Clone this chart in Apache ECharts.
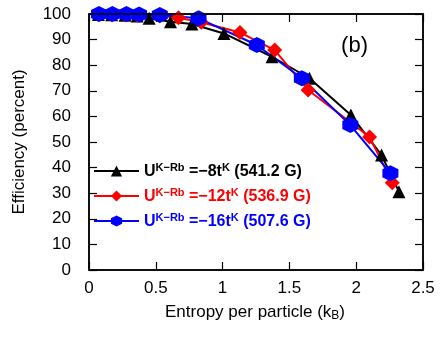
<!DOCTYPE html>
<html><head><meta charset="utf-8">
<script src="https://cdn.jsdelivr.net/npm/echarts@6/dist/echarts.min.js"></script>
<style>html,body{margin:0;padding:0;background:#fff}
#wrap{position:relative;width:443px;height:337px}
#c,#o{position:absolute;left:0;top:0;width:443px;height:337px}</style>
</head><body><div id="wrap"><div id="c"></div><div id="o"></div></div>
<script>
const xBlack = [0.07,0.17,0.27,0.36,0.45,0.61,0.77,1.01,1.37,1.65,1.96,2.19,2.32];
const yBlack = [99.8,99.7,99.5,99.2,98.3,97.0,96.1,92.4,83.3,74.9,60.5,44.9,30.6];
const xRed = [0.07,0.17,0.27,0.36,0.53,0.67,0.84,1.13,1.39,1.64,2.10,2.27];
const yRed = [99.8,99.7,99.6,99.5,99.3,98.5,96.8,92.8,85.9,70.3,52.0,34.1];
const xBlue = [0.075,0.175,0.28,0.375,0.53,0.82,1.256,1.593,1.956,2.256];
const yBlue = [100,100,100,99.8,99.6,98.3,87.9,74.9,56.6,37.8];
const names = ['a','b','c'];
const legendTexts = [
  ['U','K\u2212Rb',' =\u22128t','K',' (541.2 G)'],
  ['U','K\u2212Rb',' =\u221212t','K',' (536.9 G)'],
  ['U','K\u2212Rb',' =\u221216t','K',' (507.6 G)']
];
const colors = ['#000000','#ff0000','#0000ff'];
const symbols = ['triangle','diamond','path://M0,-10 L8.66,-5 L8.66,5 L0,10 L-8.66,5 L-8.66,-5 Z'];
const symbolSizes = [13,15,16];
const FONT = 'Liberation Sans';
function zip(xs, ys){ return xs.map((x,i)=>[x, ys[i]]); }
const datasets = [zip(xBlack,yBlack), zip(xRed,yRed), zip(xBlue,yBlue)];

function mkAxis(type, pos, extra){
  const a = {
    type:'value', position:pos,
    min:0, max: type==='x'?2.5:100,
    interval: type==='x' ? 0.5 : 10,
    axisLine:{show:true,onZero:false,lineStyle:{color:'#000',width:1.5}},
    axisTick:{show:true,inside:true,length:8,lineStyle:{color:'#000',width:1.2}},
    splitLine:{show:false},
    axisLabel:{show:false}
  };
  return Object.assign(a, extra||{});
}
function mkSeries(i, withData){
  return {name:names[i],type:'line',data: withData ? datasets[i] : [],
    symbol:symbols[i],symbolSize:symbolSizes[i],
    lineStyle:{color:colors[i],width:2},itemStyle:{color:colors[i]}};
}
const chart = echarts.init(document.getElementById('c'), null, {renderer:'canvas'});
chart.setOption({
  animation:false,
  grid:{left:89,right:20,top:14,bottom:67},
  xAxis:[
    mkAxis('x','bottom',{axisLabel:{show:true,fontSize:17,color:'#000',margin:10}}),
    mkAxis('x','top')
  ],
  yAxis:[
    mkAxis('y','left',{axisLabel:{show:true,fontSize:17,color:'#000',margin:18}}),
    mkAxis('y','right')
  ],
  series:[mkSeries(0,true),mkSeries(1,true),mkSeries(2,true)]
});
function mkLegend(i, top){
  const c = colors[i];
  return {
    data:[names[i]], left:93, top:top, padding:0, itemWidth:45, itemHeight:14, itemGap:0,
    formatter: function(){ const t=legendTexts[i]; return '{m|'+t[0]+'}{s|'+t[1]+'}{m|'+t[2]+'}{s|'+t[3]+'}{m|'+t[4]+'}'; },
    textStyle:{ rich:{
      m:{fontFamily:FONT,fontSize:16,fontWeight:'bold',color:c,verticalAlign:'bottom',lineHeight:18},
      s:{fontFamily:FONT,fontSize:11,fontWeight:'bold',color:c,verticalAlign:'top',padding:[0,0,8,0],lineHeight:18}
    }}
  };
}
const over = echarts.init(document.getElementById('o'), null, {renderer:'canvas'});
over.setOption({
  animation:false,
  grid:{left:89,right:20,top:14,bottom:67},
  xAxis:{type:'value',min:0,max:2.5,show:false},
  yAxis:{type:'value',min:0,max:100,show:false},
  title:{text:'(b)',right:70,top:30,textStyle:{fontFamily:FONT,fontSize:22,fontWeight:'normal',color:'#000'}},
  legend:[mkLegend(0,162),mkLegend(1,187),mkLegend(2,212)],
  graphic:[
    {type:'rect',shape:{x:89,y:14,width:334,height:256},style:{fill:'none',stroke:'#000',lineWidth:1.5},silent:true},
    {type:'text',x:255,y:312,style:{text:'{a|Entropy per particle (k}{b|B}{a|)}',align:'center',verticalAlign:'middle',
      rich:{a:{fontFamily:FONT,fontSize:17,fill:'#000'},b:{fontFamily:FONT,fontSize:12,fill:'#000',verticalAlign:'bottom',padding:[8,0,0,0]}}}},
    {type:'text',x:19,y:142,rotation:Math.PI/2,style:{text:'Efficiency (percent)',align:'center',verticalAlign:'middle',fontFamily:FONT,fontSize:17,fill:'#000'}}
  ],
  series:[mkSeries(0,false),mkSeries(1,false),mkSeries(2,false)]
});
</script></body></html>
